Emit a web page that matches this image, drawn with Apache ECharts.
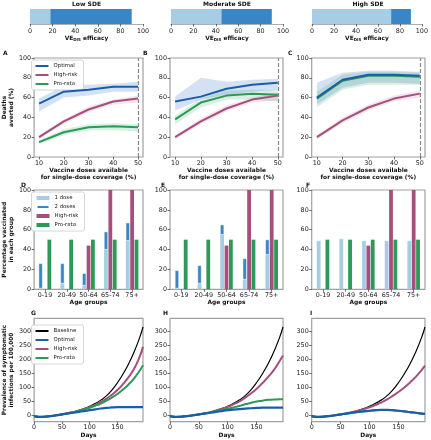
<!DOCTYPE html>
<html><head><meta charset="utf-8">
<script src="https://cdn.jsdelivr.net/npm/echarts@6/dist/echarts.min.js"></script>
<style>html,body{margin:0;padding:0;background:#fff}#c{width:431px;height:440px}</style>
</head><body><div id="c"></div><script>
// ---------- data ----------
const sdeTitles = ['Low SDE', 'Moderate SDE', 'High SDE'];
const veLight = [18, 45, 72];
const veTotal = [90, 90, 90];

const doses = [10, 20, 30, 40, 50];
const A_opt = [54, 66, 68, 71, 71], A_opt_lo = [46, 60, 62, 66, 66], A_opt_hi = [59, 72, 73, 74, 76];
const A_hr = [20, 36, 48, 56, 59], A_hr_lo = [18, 33, 45, 53, 55], A_hr_hi = [22, 38, 51, 58, 62];
const A_pr = [15, 25, 30, 31, 30], A_pr_lo = [13, 22, 27, 27, 26], A_pr_hi = [17, 28, 33, 34, 33];
const B_opt = [56, 61, 69, 73, 75], B_opt_lo = [47, 58, 63, 66, 68], B_opt_hi = [61, 80, 76, 78, 79];
const B_hr = [20, 36, 49, 58, 62], B_hr_lo = [18, 33, 46, 55, 57], B_hr_hi = [22, 39, 52, 60, 65];
const B_pr = [38, 55, 62, 64, 63], B_pr_lo = [33, 50, 58, 58, 56], B_pr_hi = [42, 59, 67, 68, 68];
const C_opt = [60, 78, 83, 83, 82], C_opt_lo = [53, 70, 75, 75, 74], C_opt_hi = [75, 85, 87, 87, 86];
const C_hr = [20, 37, 50, 59, 64], C_hr_lo = [18, 34, 47, 56, 60], C_hr_hi = [22, 40, 53, 62, 67];
const C_pr = [59, 77, 82, 82, 81], C_pr_lo = [50, 68, 73, 73, 73], C_pr_hi = [66, 83, 86, 86, 85];

const ages = ['0-19', '20-49', '50-64', '65-74', '75+'];
const D_one = [1, 6, 4, 40, 49], D_total = [26, 26, 16, 58, 67];
const E_one = [1, 6, 55, 10, 35], E_total = [19, 24, 65, 31, 50];
const F_one = [49, 51, 49, 49, 49], F_total = [49, 51, 49, 49, 49];
const hrVacc = [0, 0, 44, 100, 100];
const prVacc = [50, 50, 50, 50, 50];

const days = [0, 10, 20, 30, 40, 50, 60, 70, 80, 90, 100, 110, 120, 130, 140, 150, 160, 170, 180, 190, 196];
const baseline = [-4, -7, -6, -4, -1, 2, 6, 10, 16, 23, 31, 41, 53, 68, 89, 115, 146, 182, 225, 276, 314];
const G_hr = [-4, -7, -6, -4, -1, 2, 6, 10, 15, 21, 28, 36, 46, 58, 72, 89, 110, 135, 165, 208, 243];
const G_pr = [-4, -7, -6, -4, -1, 2, 6, 10, 15, 20, 26, 33, 41, 51, 62, 75, 91, 109, 131, 158, 178];
const G_opt = [-4, -7, -6, -4, -1, 2, 5, 8, 11, 14, 17, 20, 23, 25, 27, 28, 28, 28, 28, 28, 28];
const H_hr = [-4, -7, -6, -4, -1, 2, 6, 10, 16, 22, 29, 38, 48, 61, 76, 93, 113, 135, 160, 192, 212];
const H_pr = [-4, -7, -6, -4, -1, 2, 5, 9, 14, 18, 22, 27, 32, 38, 43, 48, 51, 54, 55, 56, 56];
const H_opt = [-4, -7, -6, -4, -1, 2, 5, 8, 11, 14, 17, 19, 21, 23, 24, 25, 26, 26, 26, 26, 26];
const I_hr = [-4, -7, -6, -4, -1, 2, 6, 10, 15, 21, 27, 35, 44, 55, 68, 82, 98, 116, 136, 160, 176];
const I_pr = [-4, -7, -6, -4, -1, 2, 5, 8, 11, 13, 15, 17, 18, 18, 17, 15, 13, 10, 8, 5, 4];
const I_opt = [-4, -7, -6, -4, -1, 2, 5, 8, 11, 13, 15, 17, 18, 18, 17, 15, 13, 10, 8, 5, 4];

// ---------- style ----------
const F = 'DejaVu Sans';
const COL = {opt: '#1b5ea8', hr: '#a54f7e', pr: '#2b9a58', one: '#a6cde3', two: '#3a86c4', base: '#000000'};
const cols = [{left: 29.5, width: 113.5}, {left: 170, width: 113}, {left: 311.7, width: 113.3}];
const rows = [{top: 58, height: 99}, {top: 190, height: 99.3}, {top: 318.3, height: 103.4}];

const grid = [], xAxis = [], yAxis = [], series = [], legend = [], graphic = [];
const tickLbl = {fontFamily: F, fontSize: 6.4, color: '#222', margin: 3};
const tick = {show: true, length: 2.5, lineStyle: {color: '#333', width: 0.7}};
const nameStyle = {fontFamily: F, fontSize: 5.9, fontWeight: 'bold', color: '#111', lineHeight: 7};
const noLine = {show: false, onZero: false};
const pair = (xs, ys) => xs.map((x, i) => [x, ys[i]]);

// top VE bars
const topLefts = [30, 171, 312], topWidths = [113, 112, 112];
for (let k = 0; k < 3; k++) {
  grid.push({left: topLefts[k], top: 9, width: topWidths[k], height: 15, show: false});
  xAxis.push({gridIndex: k, type: 'value', min: 0, max: 100, interval: 20, splitLine: {show: false},
    axisLine: {show: true, onZero: false, lineStyle: {color: '#999', width: 0.8}}, axisTick: tick, axisLabel: {...tickLbl, margin: 4},
    name: 'VE{s|DIS} efficacy', nameLocation: 'middle', nameGap: 11,
    nameTextStyle: {...nameStyle, rich: {s: {fontFamily: F, fontSize: 4, fontWeight: 'bold', verticalAlign: 'bottom', padding: [4, 0, 0, 0]}}}});
  yAxis.push({gridIndex: k, type: 'category', data: ['ve'], show: false});
  series.push({type: 'bar', xAxisIndex: k, yAxisIndex: k, stack: 've' + k, barWidth: 15, data: [veLight[k]], itemStyle: {color: COL.one}, silent: true});
  series.push({type: 'bar', xAxisIndex: k, yAxisIndex: k, stack: 've' + k, barWidth: 15, data: [veTotal[k] - veLight[k]], itemStyle: {color: COL.two}, silent: true});
  graphic.push({type: 'text', x: topLefts[k] + topWidths[k] / 2, y: 4, style: {text: sdeTitles[k], font: 'bold 6px ' + F, fill: '#111', textAlign: 'center', textVerticalAlign: 'middle', align: 'center', verticalAlign: 'middle'}});
}

function addGrid(r, c) {
  grid.push({left: cols[c].left, top: rows[r].top, width: cols[c].width, height: rows[r].height, show: true, borderColor: '#a0a0a0', borderWidth: 1.2});
  return grid.length - 1;
}
const letters = [['A', 'B', 'C'], ['D', 'E', 'F'], ['G', 'H', 'I']];
const letterX = [[3, 143, 288], [21, 161, 306], [31, 163, 310]];
for (let r = 0; r < 3; r++) for (let c = 0; c < 3; c++) {
  graphic.push({type: 'text', x: letterX[r][c], y: rows[r].top - 1.5, style: {text: letters[r][c], font: 'bold 6px ' + F, fill: '#111', textVerticalAlign: 'bottom', verticalAlign: 'bottom'}});
}

function band(g, xs, lo, hi, color) {
  return {type: 'custom', name: 'band', xAxisIndex: g, yAxisIndex: g, silent: true, z: 1, clip: true,
    data: xs.map((x, i) => [x, lo[i], hi[i]]), encode: {x: 0, y: [1, 2]},
    renderItem: function (params, api) {
      if (params.dataIndex !== 0) return null;
      const pts = [];
      for (let i = 0; i < xs.length; i++) pts.push(api.coord([xs[i], hi[i]]));
      for (let i = xs.length - 1; i >= 0; i--) pts.push(api.coord([xs[i], lo[i]]));
      return {type: 'polygon', shape: {points: pts}, style: {fill: color}};
    }};
}

// row 1 : deaths averted
const rowA = [
  {opt: A_opt, lo1: A_opt_lo, hi1: A_opt_hi, hr: A_hr, lo2: A_hr_lo, hi2: A_hr_hi, pr: A_pr, lo3: A_pr_lo, hi3: A_pr_hi},
  {opt: B_opt, lo1: B_opt_lo, hi1: B_opt_hi, hr: B_hr, lo2: B_hr_lo, hi2: B_hr_hi, pr: B_pr, lo3: B_pr_lo, hi3: B_pr_hi},
  {opt: C_opt, lo1: C_opt_lo, hi1: C_opt_hi, hr: C_hr, lo2: C_hr_lo, hi2: C_hr_hi, pr: C_pr, lo3: C_pr_lo, hi3: C_pr_hi}];
for (let c = 0; c < 3; c++) {
  const g = addGrid(0, c), d = rowA[c];
  xAxis.push({gridIndex: g, type: 'value', min: 8, max: 52, splitLine: {show: false}, axisLine: noLine,
    axisTick: {...tick, customValues: doses}, axisLabel: {...tickLbl, customValues: doses},
    name: 'Vaccine doses available\nfor single-dose coverage (%)', nameLocation: 'middle', nameGap: 10, nameTextStyle: nameStyle});
  yAxis.push({gridIndex: g, type: 'value', min: 0, max: 100, interval: 20, splitLine: {show: false}, axisLine: noLine,
    axisTick: tick, axisLabel: tickLbl,
    name: c === 0 ? 'Deaths\naverted (%)' : '', nameLocation: 'middle', nameGap: 15, nameTextStyle: nameStyle});
  series.push(band(g, doses, d.lo1, d.hi1, 'rgba(60,120,200,0.22)'));
  series.push(band(g, doses, d.lo2, d.hi2, 'rgba(165,79,126,0.15)'));
  series.push(band(g, doses, d.lo3, d.hi3, 'rgba(43,154,88,0.17)'));
  series.push({type: 'line', name: 'High-risk', xAxisIndex: g, yAxisIndex: g, data: pair(doses, d.hr), symbol: 'none', lineStyle: {color: COL.hr, width: 2}, itemStyle: {color: COL.hr}, z: 3});
  series.push({type: 'line', name: 'Pro-rata', xAxisIndex: g, yAxisIndex: g, data: pair(doses, d.pr), symbol: 'none', lineStyle: {color: COL.pr, width: 2}, itemStyle: {color: COL.pr}, z: 3,
    markLine: {silent: true, symbol: 'none', label: {show: false}, lineStyle: {color: '#888', type: [4, 2], width: 1.2}, data: [{xAxis: 50}]}});
  series.push({type: 'line', name: 'Optimal', xAxisIndex: g, yAxisIndex: g, data: pair(doses, d.opt), symbol: 'none', lineStyle: {color: COL.opt, width: 2}, itemStyle: {color: COL.opt}, z: 4});
}

// row 2 : vaccinated %
const rowD = [[D_one, D_total], [E_one, E_total], [F_one, F_total]];
for (let c = 0; c < 3; c++) {
  const g = addGrid(1, c), [one, tot] = rowD[c];
  xAxis.push({gridIndex: g, type: 'category', data: ages, axisLine: noLine, axisTick: {...tick, alignWithLabel: true}, axisLabel: {...tickLbl, interval: 0},
    name: 'Age groups', nameLocation: 'middle', nameGap: 10, nameTextStyle: nameStyle});
  yAxis.push({gridIndex: g, type: 'value', min: 0, max: 100, interval: 20, splitLine: {show: false}, axisLine: noLine,
    axisTick: tick, axisLabel: tickLbl,
    name: c === 0 ? 'Percentage vaccinated\nin each group' : '', nameLocation: 'middle', nameGap: 15, nameTextStyle: nameStyle});
  const bw = 3.8, gap = '15%';
  series.push({type: 'bar', name: '1 dose', xAxisIndex: g, yAxisIndex: g, stack: 'opt' + g, data: one, barWidth: bw, barGap: gap, itemStyle: {color: COL.one}});
  series.push({type: 'bar', name: '2 doses', xAxisIndex: g, yAxisIndex: g, stack: 'opt' + g, data: tot.map((v, i) => v - one[i]), barWidth: bw, barGap: gap, itemStyle: {color: COL.two, borderColor: '#fff', borderWidth: 0.4}});
  series.push({type: 'bar', name: 'High-risk', xAxisIndex: g, yAxisIndex: g, data: hrVacc, barWidth: bw, barGap: gap, itemStyle: {color: COL.hr}});
  series.push({type: 'bar', name: 'Pro-rata', xAxisIndex: g, yAxisIndex: g, data: prVacc, barWidth: bw, barGap: gap, itemStyle: {color: COL.pr}});
}

// row 3 : prevalence
const rowG = [[G_hr, G_pr, G_opt], [H_hr, H_pr, H_opt], [I_hr, I_pr, I_opt]];
for (let c = 0; c < 3; c++) {
  const g = addGrid(2, c), [hr, pr, opt] = rowG[c];
  xAxis.push({gridIndex: g, type: 'value', min: 0, max: 196, splitLine: {show: false}, axisLine: noLine,
    axisTick: {...tick, customValues: [0, 50, 100, 150]}, axisLabel: {...tickLbl, customValues: [0, 50, 100, 150]},
    name: 'Days', nameLocation: 'middle', nameGap: 10, nameTextStyle: nameStyle});
  yAxis.push({gridIndex: g, type: 'value', min: -24, max: 345, splitLine: {show: false}, axisLine: noLine,
    axisTick: {...tick, customValues: [0, 50, 100, 150, 200, 250, 300]}, axisLabel: {...tickLbl, customValues: [0, 50, 100, 150, 200, 250, 300]},
    name: c === 0 ? 'Prevalence of symptomatic\ninfections per 100,000' : '', nameLocation: 'middle', nameGap: 15, nameTextStyle: nameStyle});
  series.push({type: 'line', name: 'Baseline', xAxisIndex: g, yAxisIndex: g, data: pair(days, baseline), smooth: true, symbol: 'none', lineStyle: {color: COL.base, width: 1.2}, itemStyle: {color: COL.base}, z: 2});
  series.push({type: 'line', name: 'High-risk', xAxisIndex: g, yAxisIndex: g, data: pair(days, hr), smooth: true, symbol: 'none', lineStyle: {color: COL.hr, width: 2}, itemStyle: {color: COL.hr}, z: 3});
  series.push({type: 'line', name: 'Pro-rata', xAxisIndex: g, yAxisIndex: g, data: pair(days, pr), smooth: true, symbol: 'none', lineStyle: {color: COL.pr, width: 2}, itemStyle: {color: COL.pr}, z: 3});
  series.push({type: 'line', name: 'Optimal', xAxisIndex: g, yAxisIndex: g, data: pair(days, opt), smooth: true, symbol: 'none', lineStyle: {color: COL.opt, width: 2.2}, itemStyle: {color: COL.opt}, z: 4});
}

const legBase = {orient: 'vertical', left: 31.5, itemWidth: 13, itemGap: 3, padding: [3, 6, 3, 4], icon: 'rect',
  backgroundColor: 'rgba(255,255,255,0.9)', borderColor: '#ccc', borderWidth: 0.8, borderRadius: 2,
  textStyle: {fontFamily: F, fontSize: 5.4, color: '#222', lineHeight: 6}, selectedMode: false};
legend.push({...legBase, top: 60, itemHeight: 2, data: ['Optimal', 'High-risk', 'Pro-rata']});
legend.push({...legBase, top: 192, itemHeight: 4, data: ['1 dose', '2 doses', 'High-risk', 'Pro-rata']});
legend.push({...legBase, top: 325, itemHeight: 2, data: ['Baseline', 'Optimal', 'High-risk', 'Pro-rata']});

const chart = echarts.init(document.getElementById('c'), null, {renderer: 'canvas'});
chart.setOption({animation: false, backgroundColor: '#fff', textStyle: {fontFamily: F}, grid, xAxis, yAxis, series, legend, graphic});
</script></body></html>
